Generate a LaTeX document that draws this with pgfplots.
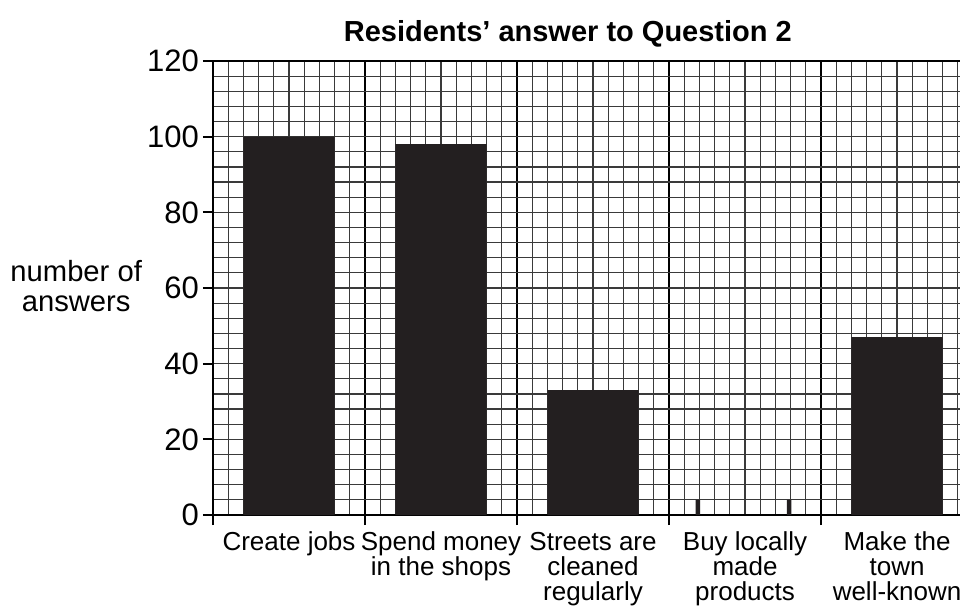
\documentclass[border=0pt]{standalone}
\usepackage{pgfplots}
\pgfplotsset{compat=1.18}
\usepackage{fontspec}
\setmainfont{Liberation Sans}
\definecolor{barcol}{HTML}{231F20}
\definecolor{gridcol}{HTML}{3A3A3A}

\begin{document}
\begin{tikzpicture}
\begin{axis}[
  scale only axis,
  width=373.5pt, height=227pt,
  xmin=0, xmax=4.914, ymin=0, ymax=120,
  axis x line*=bottom, axis y line*=left,
  axis line style={line width=1.1pt, black},
  tick align=outside,
  major tick length=5pt,
  minor tick length=0pt,
  tick style={line width=1.1pt, black},
  xtick={0,1,2,3,4}, xticklabels={},
  ytick={0,20,...,120},
  minor xtick={0,0.1,...,4.9},
  minor ytick={0,4,...,120},
  grid=both,
  minor grid style={gridcol, line width=0.6pt},
  major y grid style={gridcol, line width=0.6pt},
  major x grid style={black, line width=1pt},
  extra x ticks={0.5,1.5,2.5,3.5,4.5},
  extra x tick labels={Create jobs, Spend money\\in the shops, Streets are\\cleaned\\regularly, Buy locally\\made\\products, Make the\\town\\well-known},
  extra x tick style={major x grid style={draw=none}, major tick length=0pt,
    tick label style={align=center, yshift=-5pt, font=\fontsize{13}{12.5}\selectfont}},
  extra y ticks={120}, extra y tick labels={},
  extra y tick style={major y grid style={black, line width=1.1pt}, major tick length=0pt},
  yticklabel style={xshift=1.5pt, font=\fontsize{15.5}{18}\selectfont},
  /pgf/number format/assume math mode=true,
  title={Residents’ answer to Question 2},
  title style={font=\fontsize{14.5}{17}\selectfont\bfseries, at={(0.475,1)}, anchor=base, yshift=4pt, inner sep=0pt},
  ylabel={number of\\answers},
  every axis y label/.style={at={(axis description cs:0,0.5)}, anchor=east, xshift=-32pt, yshift=1pt, align=center, font=\fontsize{14.6}{15}\selectfont},
]
% main bars
\addplot[ybar, bar width=0.6, bar shift=0pt, fill=barcol, draw=none]
  coordinates {(0.5,100) (1.5,98) (2.5,33) (4.5,47)};
% small marks on the empty category
\addplot[ybar, bar width=0.03, bar shift=0pt, fill=barcol, draw=none]
  coordinates {(3.19,4) (3.79,4)};
\end{axis}
\pgfresetboundingbox
\path (-106.5pt,-48.5pt) rectangle (373.5pt,257.5pt);
\end{tikzpicture}
\end{document}
